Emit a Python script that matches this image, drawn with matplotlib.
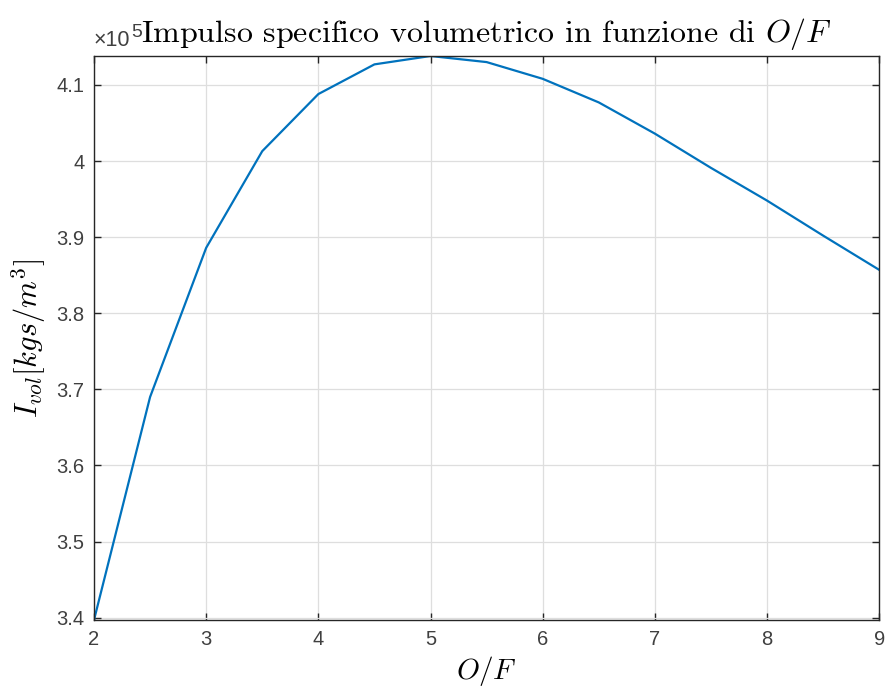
import matplotlib
matplotlib.use('Agg')
import matplotlib.pyplot as plt

# rapporto ossidante/combustibile e impulso volumetrico [kg s / m^3]
of_ratio = [2, 2.5, 3, 3.5, 4, 4.5, 5, 5.5, 6, 6.5, 7, 7.5, 8, 8.5, 9]
i_vol = [339700, 369000, 388600, 401300, 408800, 412700, 413800, 413000,
         410800, 407700, 403600, 399100, 394800, 390200, 385700]
x_ticks = [2, 3, 4, 5, 6, 7, 8, 9]
y_ticks = [3.4, 3.5, 3.6, 3.7, 3.8, 3.9, 4.0, 4.1]
y_ticklabels = ['3.4', '3.5', '3.6', '3.7', '3.8', '3.9', '4', '4.1']
scale = 1e5

plt.rcParams['mathtext.fontset'] = 'cm'
ax_col = '#262626'
lab_col = '#404040'

fig = plt.figure(figsize=(8.91, 7.0), dpi=100)
ax = fig.add_axes([0.1055, 0.1143, 0.8813, 0.8057])

ax.plot(of_ratio, [v / scale for v in i_vol], color='#0072BD', lw=1.6)

ax.set_xlim(min(of_ratio), max(of_ratio))
ax.set_ylim(min(i_vol) / scale, max(i_vol) / scale)
ax.set_xticks(x_ticks)
ax.set_yticks(y_ticks)
ax.set_yticklabels(y_ticklabels)

ax.grid(True, color='#dedede', lw=0.9)
ax.set_axisbelow(True)
for s in ax.spines.values():
    s.set_color(ax_col)
    s.set_linewidth(1.0)
ax.tick_params(direction='in', length=5, width=1.0, color=ax_col,
               top=True, right=True, labelsize=14.5, labelcolor=lab_col, pad=7)
for lab in ax.get_xticklabels() + ax.get_yticklabels():
    lab.set_family('Liberation Sans')

ax.set_title('Impulso specifico volumetrico in funzione di $O/F$',
             family='cmr10', fontsize=23, pad=10)
ax.set_xlabel('$O/F$', fontsize=21, labelpad=4)
ax.set_ylabel('$I_{vol}[kgs/m^3]$', fontsize=22, labelpad=6)

# moltiplicatore dell'asse y
ax.text(0.0, 1.008, '\u00d710', transform=ax.transAxes, fontsize=15.5,
        color=lab_col, family='Liberation Sans', ha='left', va='bottom')
ax.text(0.0475, 1.027, '5', transform=ax.transAxes, fontsize=14,
        color=lab_col, family='Liberation Sans', ha='left', va='bottom')

fig.savefig('out.png', dpi=100)
